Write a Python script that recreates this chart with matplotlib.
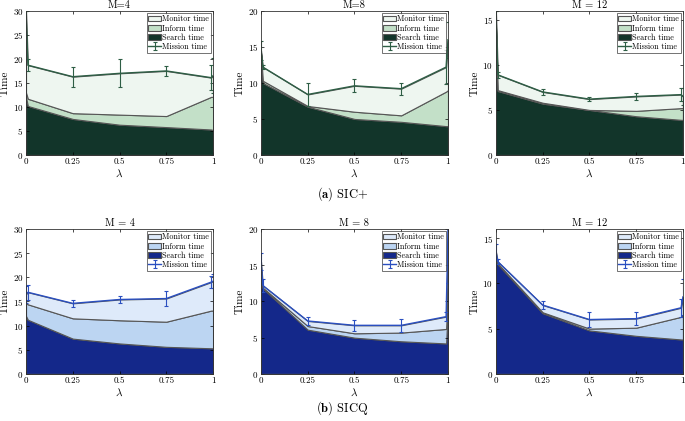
import matplotlib
matplotlib.use('Agg')
import matplotlib.pyplot as plt

plt.rcParams['font.family'] = ['cmr10', 'DejaVu Serif']
plt.rcParams['mathtext.fontset'] = 'cm'
plt.rcParams['axes.formatter.use_mathtext'] = True

# lambda samples (near-0 and near-1 points included)
lam = [0, 0.01, 0.25, 0.5, 0.75, 0.99, 1]

# SIC+ : search, search+inform (cumulative), mission time, error
sic_search = {
    4: [12.0, 10.2, 7.5, 6.3, 5.8, 5.3, 5.2],
    8: [14.0, 10.0, 6.7, 5.0, 4.6, 4.0, 4.0],
    12: [14.0, 7.1, 5.7, 5.0, 4.3, 3.9, 3.9],
}
sic_inform = {
    4: [13.0, 11.7, 8.7, 8.4, 8.1, 12.1, 12.1],
    8: [14.2, 10.3, 6.8, 6.0, 5.5, 8.8, 9.0],
    12: [14.2, 7.2, 5.8, 5.0, 4.9, 5.2, 5.2],
}
sic_mission = {
    4: [30.0, 18.7, 16.3, 17.0, 17.5, 16.1, 16.5],
    8: [14.5, 12.2, 8.4, 9.6, 9.2, 12.2, 16.0],
    12: [16.0, 8.9, 7.0, 6.2, 6.5, 6.7, 6.5],
}
sic_err = {
    4: [0.0, 1.3, 2.1, 2.9, 1.0, 2.6, 3.7],
    8: [1.3, 0.3, 1.6, 0.9, 0.85, 2.4, 2.5],
    12: [0.0, 0.3, 0.35, 0.25, 0.35, 0.75, 0.9],
}

# SICQ
sicq_search = {
    4: [12.0, 11.2, 7.3, 6.3, 5.6, 5.3, 5.3],
    8: [14.0, 11.8, 6.1, 5.0, 4.5, 4.2, 10.0],
    12: [12.5, 12.1, 6.7, 4.8, 4.2, 3.8, 3.8],
}
sicq_inform = {
    4: [14.6, 14.4, 11.5, 11.1, 10.8, 13.1, 13.1],
    8: [14.2, 11.9, 6.6, 5.6, 5.7, 6.2, 12.0],
    12: [12.7, 12.2, 6.8, 5.0, 5.1, 6.3, 6.5],
}
sicq_mission = {
    4: [16.5, 16.9, 14.6, 15.4, 15.6, 19.0, 19.2],
    8: [15.5, 12.2, 7.3, 6.7, 6.7, 7.9, 20.0],
    12: [13.5, 12.4, 7.6, 6.0, 6.1, 7.3, 8.5],
}
sicq_err = {
    4: [1.8, 1.5, 0.8, 0.8, 1.5, 1.3, 1.5],
    8: [1.2, 0.9, 0.6, 0.75, 0.9, 0.65, 7.5],
    12: [0.9, 0.3, 0.4, 0.85, 0.7, 1.0, 2.0],
}

ylims = {4: 30, 8: 20, 12: 16}
yticks = {4: [0, 5, 10, 15, 20, 25, 30], 8: [0, 5, 10, 15, 20], 12: [0, 5, 10, 15]}
titles_a = {4: 'M=4', 8: 'M=8', 12: 'M = 12'}
titles_b = {4: 'M = 4', 8: 'M = 8', 12: 'M = 12'}

green = ['#12352a', '#c3e0c8', '#eef6f0', '#2e5e45']
blue = ['#14288a', '#bcd5f2', '#deeafa', '#2a4fc0']

fig = plt.figure(figsize=(6.85, 4.21), dpi=100)

lefts = [0.038, 0.381, 0.724]
width = 0.273


def draw(ax, m, search, inform, mission, err, cols, title):
    s = search[m]
    inf = [b - a for a, b in zip(s, inform[m])]
    mon = [c - b for b, c in zip(inform[m], mission[m])]
    polys = ax.stackplot(lam, s, inf, mon, colors=[cols[0], cols[1], cols[2]],
                         edgecolor='#555555', linewidth=0.8)
    eb = ax.errorbar(lam, mission[m], yerr=err[m], color=cols[3], lw=1.0,
                     capsize=1.5, elinewidth=0.8, capthick=0.8)
    ax.set_xlim(0, 1)
    ax.set_ylim(0, ylims[m])
    ax.set_xticks([0, 0.25, 0.5, 0.75, 1])
    ax.set_xticklabels(['0', '0.25', '0.5', '0.75', '1'])
    ax.set_yticks(yticks[m])
    ax.tick_params(direction='in', top=True, right=True, labelsize=6.5,
                   length=2.5, width=0.5, pad=2)
    for sp in ax.spines.values():
        sp.set_linewidth(0.6)
        sp.set_color('#333333')
    ax.set_title(title, fontsize=7.5, pad=2)
    ax.set_xlabel(r'$\lambda$', fontsize=8, labelpad=1)
    ax.set_ylabel('Time', fontsize=8, labelpad=2)
    leg = ax.legend([polys[2], polys[1], polys[0], eb],
                    ['Monitor time', 'Inform time', 'Search time', 'Mission time'],
                    loc='upper right', fontsize=5.8, frameon=True, fancybox=False,
                    borderpad=0.2, labelspacing=0.1, handlelength=1.6,
                    handletextpad=0.1, borderaxespad=0.3)
    leg.get_frame().set_edgecolor('#333333')
    leg.get_frame().set_linewidth(0.6)


for i, m in enumerate([4, 8, 12]):
    ax = fig.add_axes([lefts[i], 0.632, width, 0.342])
    draw(ax, m, sic_search, sic_inform, sic_mission, sic_err, green, titles_a[m])
    ax = fig.add_axes([lefts[i], 0.112, width, 0.344])
    draw(ax, m, sicq_search, sicq_inform, sicq_mission, sicq_err, blue, titles_b[m])

fig.text(0.5, 0.540, r'$\mathbf{(a)}$ SIC+', ha='center', va='center', fontsize=9)
fig.text(0.5, 0.030, r'$\mathbf{(b)}$ SICQ', ha='center', va='center', fontsize=9)

fig.savefig('out.png', dpi=100)
